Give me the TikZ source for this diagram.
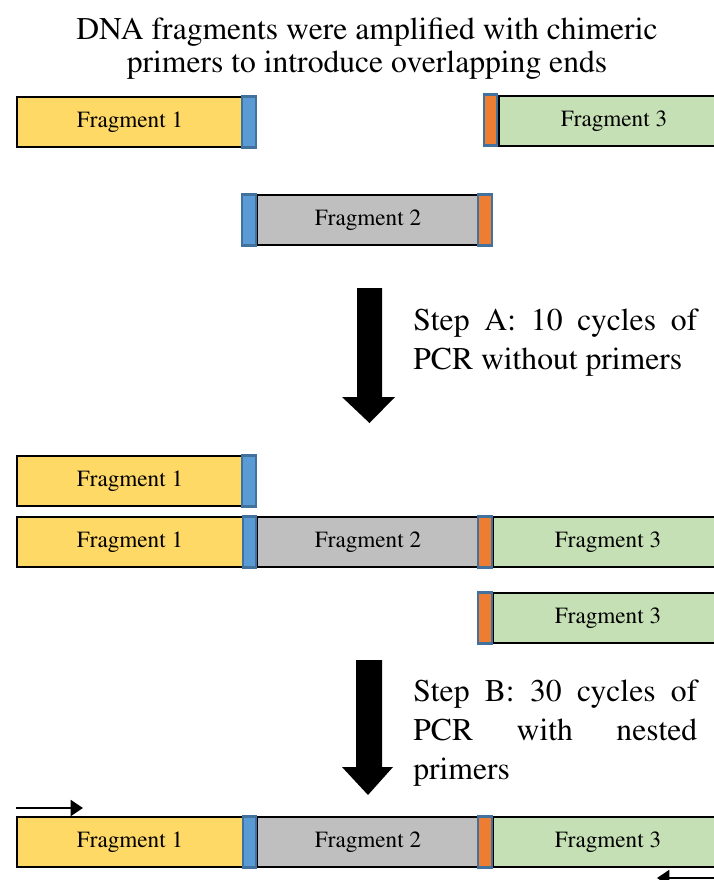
\documentclass[tikz,border=0pt]{standalone}
\usepackage[T1]{fontenc}
\usepackage{times}
\usetikzlibrary{arrows.meta}
\definecolor{fragyellow}{HTML}{FFD966}
\definecolor{fraggray}{HTML}{BFBFBF}
\definecolor{fraggreen}{HTML}{C5E0B4}
\definecolor{capblue}{HTML}{5B9BD5}
\definecolor{caporange}{HTML}{ED7D31}
\definecolor{capline}{HTML}{41719C}
\tikzstyle{frag}=[rectangle,draw=black,line width=1.2pt,inner sep=0pt,minimum height=1cm,font=\fontsize{13.2}{15}\selectfont]
\tikzstyle{endcap}=[rectangle,draw=capline,line width=1.2pt,inner sep=0pt,minimum width=0.27cm,minimum height=1.02cm]
\tikzstyle{F1}=[frag,fill=fragyellow,minimum width=4.52cm]
\tikzstyle{F2}=[frag,fill=fraggray,minimum width=4.44cm]
\tikzstyle{F3}=[frag,fill=fraggreen,minimum width=4.6cm]
\tikzstyle{bluecap}=[endcap,fill=capblue]
\tikzstyle{orangecap}=[endcap,fill=caporange]
\tikzstyle{steptext}=[anchor=north west,inner sep=0pt,text width=5.68cm,align=justify,font=\fontsize{18}{22}\selectfont]
\tikzstyle{bigarrow}=[fill=black]
\tikzstyle{primer}=[line width=1.4pt,-{Triangle[length=7pt,width=9pt]}]

\begin{document}
\begin{tikzpicture}[x=0.02cm,y=-0.02cm]
      \useasboundingbox (0,0) rectangle (714,880);
      % title
      \node[align=center,font=\fontsize{18}{18.7}\selectfont] at (367,49) (title)
        {DNA fragments were amplified with chimeric\\primers to introduce overlapping ends};
      % starting fragments
      \node[F1,anchor=west] at (16,122) (a1) {Fragment 1};
      \node[bluecap] at (249,122) (a1b) {};
      \node[F3,anchor=west] at (498,121) (a3) {Fragment 3};
      \node[orangecap] at (490.5,120) (a3o) {};
      \node[F2,anchor=west] at (256,220) (a2) {Fragment 2};
      \node[bluecap] at (249,220) (a2b) {};
      \node[orangecap] at (485,220) (a2o) {};
      % step A
      \fill[bigarrow] (357,288) -- (382,288) -- (382,397) -- (395,397) -- (369.5,423)
        -- (342,397) -- (357,397) -- cycle;
      \node[steptext] at (413,309) (stepA) {\hyphenpenalty=10000\tolerance=10000
        Step A: 10 cycles of\linebreak PCR without primers};
      % after step A
      \node[F1,anchor=west] at (16,481) (b1) {Fragment 1};
      \node[bluecap] at (249,481) (b1b) {};
      \node[F1,anchor=west] at (16,542) (c1) {Fragment 1};
      \node[F2,anchor=west] at (256,542) (c2) {Fragment 2};
      \node[F3,anchor=west] at (492,542) (c3) {Fragment 3};
      \node[bluecap] at (249.5,542) (c1b) {};
      \node[orangecap] at (485,542) (c2o) {};
      \node[F3,anchor=west] at (492,618) (d3) {Fragment 3};
      \node[orangecap] at (485,618) (d3o) {};
      % step B
      \fill[bigarrow] (356,660) -- (382,660) -- (382,767) -- (393,767) -- (368,795)
        -- (342,767) -- (356,767) -- cycle;
      \node[steptext] at (413,680) (stepB) {\hyphenpenalty=10000\tolerance=10000
        Step B: 30 cycles of\linebreak PCR with nested\linebreak primers};
      % final product
      \node[F1,anchor=west] at (16,842) (e1) {Fragment 1};
      \node[F2,anchor=west] at (256,842) (e2) {Fragment 2};
      \node[F3,anchor=west] at (492,842) (e3) {Fragment 3};
      \node[bluecap] at (249.5,842) (e1b) {};
      \node[orangecap] at (485,842) (e2o) {};
      \coordinate (fwd) at (16,808);
      \coordinate (fwdtip) at (83,808);
      \coordinate (rev) at (716,878);
      \coordinate (revtip) at (657,878);
      \draw[primer] (fwd) -- (fwdtip);
      \draw[primer] (rev) -- (revtip);
    \end{tikzpicture}
\end{document}
